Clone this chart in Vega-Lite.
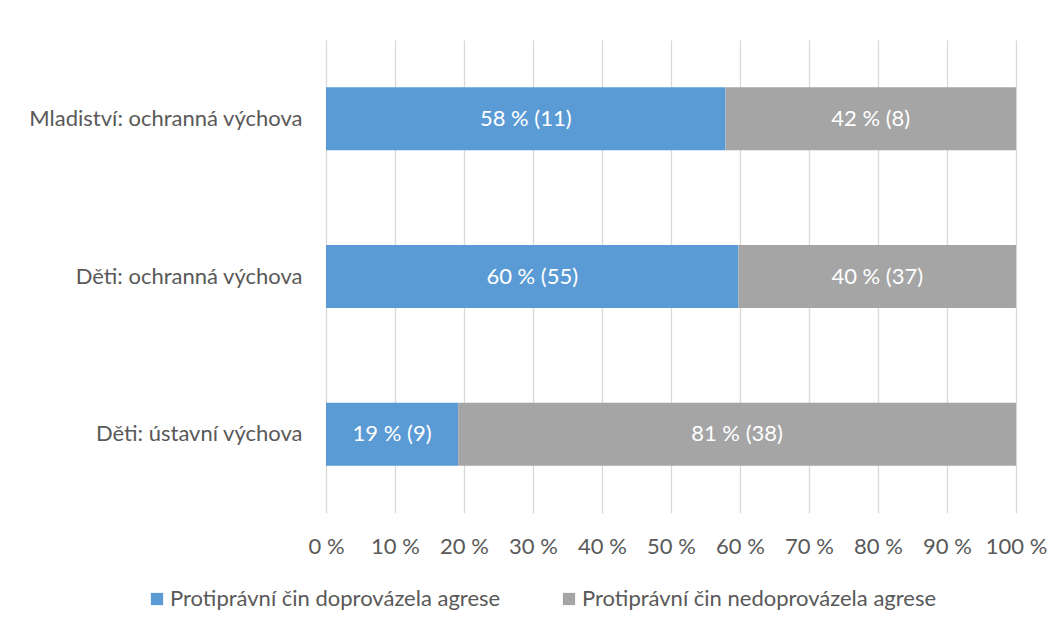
{
  "$schema": "https://vega.github.io/schema/vega-lite/v6.json",
  "width": 690,
  "height": 473,
  "autosize": "none",
  "padding": {"left": 326, "top": 40, "right": 46, "bottom": 117},
  "background": "white",
  "config": {
    "view": {"stroke": null},
    "font": "Lato",
    "axis": {"labelFont": "Lato", "labelColor": "#595959"},
    "legend": {"labelFont": "Lato", "labelColor": "#595959"}
  },
  "data": {
    "values": [
      {"cat": "Mladiství: ochranná výchova", "typ": "Protiprávní čin doprovázela agrese", "n": 11, "label": "58 % (11)"},
      {"cat": "Mladiství: ochranná výchova", "typ": "Protiprávní čin nedoprovázela agrese", "n": 8, "label": "42 % (8)"},
      {"cat": "Děti: ochranná výchova", "typ": "Protiprávní čin doprovázela agrese", "n": 55, "label": "60 % (55)"},
      {"cat": "Děti: ochranná výchova", "typ": "Protiprávní čin nedoprovázela agrese", "n": 37, "label": "40 % (37)"},
      {"cat": "Děti: ústavní výchova", "typ": "Protiprávní čin doprovázela agrese", "n": 9, "label": "19 % (9)"},
      {"cat": "Děti: ústavní výchova", "typ": "Protiprávní čin nedoprovázela agrese", "n": 38, "label": "81 % (38)"}
    ]
  },
  "transform": [
    {"stack": "n", "groupby": ["cat"], "offset": "normalize", "sort": [{"field": "typ", "order": "ascending"}], "as": ["x0", "x1"]},
    {"calculate": "(datum.x0 + datum.x1) / 2", "as": "xm"}
  ],
  "encoding": {
    "y": {
      "field": "cat",
      "type": "nominal",
      "sort": ["Mladiství: ochranná výchova", "Děti: ochranná výchova", "Děti: ústavní výchova"],
      "scale": {"paddingInner": 0.6, "paddingOuter": 0.3},
      "axis": {"title": null, "ticks": false, "domain": false, "labelPadding": 24, "labelFontSize": 22, "labelLimit": 400}
    }
  },
  "layer": [
    {
      "mark": {"type": "bar"},
      "encoding": {
        "x": {
          "field": "x0",
          "type": "quantitative",
          "scale": {"domain": [0, 1]},
          "axis": {
            "title": null,
            "values": [0, 0.1, 0.2, 0.3, 0.4, 0.5, 0.6, 0.7, 0.8, 0.9, 1],
            "labelExpr": "format(datum.value * 100, 'd') + ' %'",
            "labelOverlap": false,
            "labelBound": false,
            "labelFlush": false,
            "grid": true,
            "gridColor": "#D9D9D9",
            "gridWidth": 1.3,
            "ticks": false,
            "domain": false,
            "labelPadding": 23,
            "labelFontSize": 22
          }
        },
        "x2": {"field": "x1"},
        "color": {
          "field": "typ",
          "type": "nominal",
          "scale": {
            "domain": ["Protiprávní čin doprovázela agrese", "Protiprávní čin nedoprovázela agrese"],
            "range": ["#5B9BD5", "#A5A5A5"]
          },
          "legend": {
            "title": null,
            "orient": "none",
            "direction": "horizontal",
            "legendX": -180,
            "legendY": 548,
            "symbolType": "square",
            "symbolSize": 150,
            "symbolStrokeWidth": 0,
            "symbolOpacity": 1,
            "labelFontSize": 22,
            "labelOffset": 2,
            "columnPadding": 57,
            "labelLimit": 500
          }
        }
      }
    },
    {
      "mark": {"type": "text", "color": "white", "fontSize": 22, "font": "Lato"},
      "encoding": {
        "x": {"field": "xm", "type": "quantitative"},
        "text": {"field": "label", "type": "nominal"}
      }
    }
  ]
}
